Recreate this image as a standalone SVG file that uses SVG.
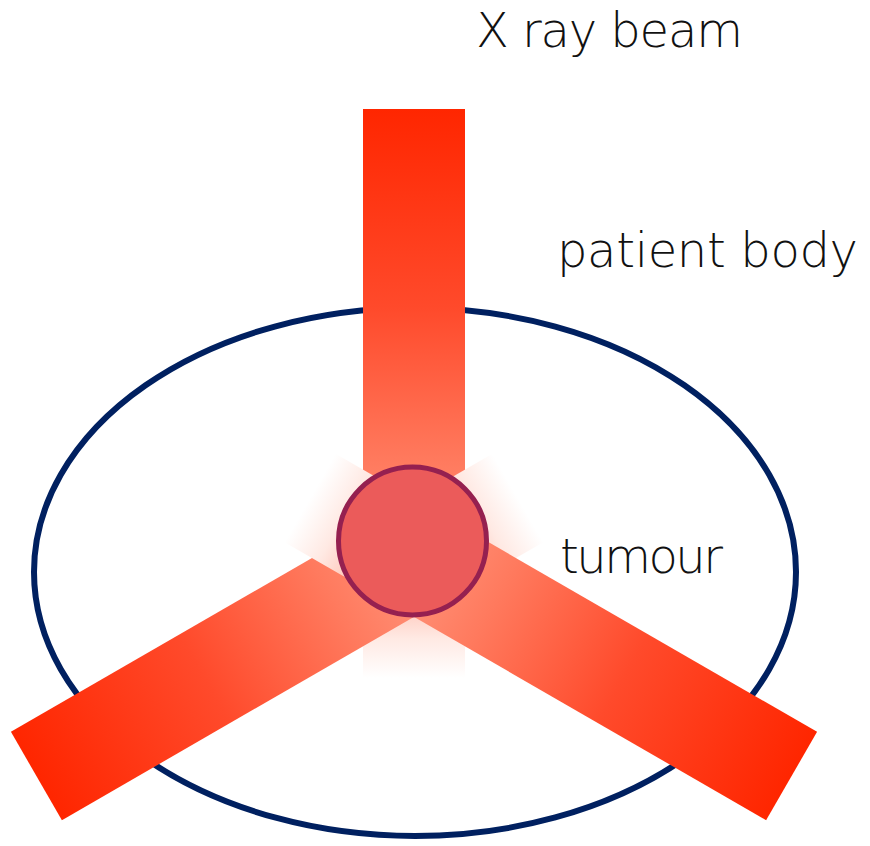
<svg xmlns="http://www.w3.org/2000/svg" width="870" height="846" viewBox="0 0 870 846">
  <defs>
    <!-- beam fill: intense red at the source end, paling toward the crossing point, fading out beyond it -->
    <linearGradient id="beamFill" x1="0" y1="0" x2="0" y2="1">
      <stop offset="0" stop-color="#FF2600"/>
      <stop offset="0.35" stop-color="#FF4A2B"/>
      <stop offset="0.62" stop-color="#FF7A5E"/>
      <stop offset="0.72" stop-color="#FF8A70"/>
      <stop offset="0.79" stop-color="#FF9C86"/>
      <stop offset="0.86" stop-color="#FFC2B4"/>
      <stop offset="0.93" stop-color="#FFE9E3"/>
      <stop offset="1" stop-color="#FFFFFF"/>
    </linearGradient>
    <style>
      .label { font-family: "DejaVu Sans", "Liberation Sans", sans-serif; font-size: 48px; font-weight: 200; fill: #111111; }
      .beam { fill: url(#beamFill); }
    </style>
  </defs>

  <rect x="0" y="0" width="870" height="846" fill="#FFFFFF"/>

  <!-- patient body outline -->
  <g id="patient-body">
    <ellipse cx="415" cy="572" rx="381" ry="264" fill="none" stroke="#002060" stroke-width="6"/>
  </g>

  <!-- three beams crossing at the tumour, 120 degrees apart -->
  <g id="beams" transform="translate(414 558)">
    <rect id="beam-top" class="beam" x="-51" y="-449" width="102" height="569"/>
    <rect id="beam-left" class="beam" x="-51" y="-436" width="102" height="556" transform="rotate(240)"/>
    <rect id="beam-right" class="beam" x="-51" y="-436" width="102" height="556" transform="rotate(120)"/>
  </g>

  <!-- target -->
  <g id="tumour">
    <circle cx="412.5" cy="541" r="74" fill="#EB5B5A" stroke="#952050" stroke-width="5"/>
  </g>

  <g id="labels">
    <text class="label" x="476" y="47" textLength="267" lengthAdjust="spacing">X ray beam</text>
    <text class="label" x="557" y="267" textLength="301" lengthAdjust="spacing">patient body</text>
    <text class="label" x="560" y="573" textLength="163" lengthAdjust="spacing">tumour</text>
  </g>
</svg>
